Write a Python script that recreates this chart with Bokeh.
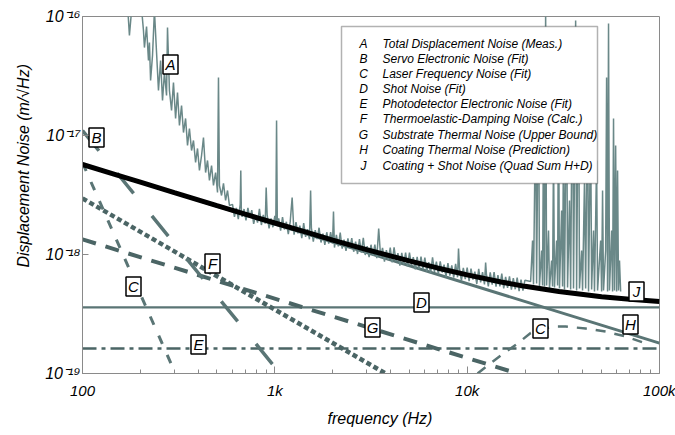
import numpy as np
from bokeh.plotting import figure
from bokeh.models import FixedTicker, CustomJSTickFormatter, BoxAnnotation, Title, Range1d
from bokeh.embed import file_html
from bokeh.resources import INLINE
from bokeh.core.properties import value

# ---------------- data ----------------
# A: measured total displacement noise, stored as log10(Hz) / log10(m/rtHz), in three stretches
meas_low_log10_freq = [
    2.208, 2.234, 2.244, 2.255, 2.281, 2.307, 2.317, 2.322, 2.333, 2.343, 2.348, 2.354, 2.364, 2.374,
    2.385, 2.395, 2.406, 2.416, 2.426, 2.437, 2.442, 2.452, 2.463, 2.473, 2.484, 2.494, 2.504, 2.515,
    2.525, 2.536, 2.546, 2.556, 2.567, 2.577, 2.588, 2.598, 2.608, 2.619, 2.629, 2.640, 2.650, 2.660,
    2.671, 2.681, 2.692, 2.702, 2.707, 2.712, 2.723, 2.733, 2.744, 2.754, 2.764,
]
meas_low_log10_asd = [
    -15.866, -15.899, -16.160, -15.950, -15.882, -15.933, -16.118, -16.261, -16.084, -16.370, -16.218,
    -16.538, -16.328, -15.950, -16.303, -16.622, -16.370, -16.706, -16.471, -16.664, -16.092, -16.622,
    -16.790, -16.555, -16.857, -16.639, -16.916, -16.748, -16.975, -16.857, -17.084, -16.941, -17.126,
    -17.042, -17.227, -17.109, -17.294, -17.168, -17.017, -17.311, -17.210, -17.378, -17.252, -17.420,
    -17.311, -17.479, -16.513, -17.420, -17.504, -17.403, -17.546, -17.462, -17.588,
]
meas_mid_log10_freq = [
    2.78, 2.79, 2.80, 2.81, 2.82, 2.823, 2.826, 2.83, 2.84, 2.85,
    2.86, 2.87, 2.88, 2.89, 2.90, 2.91, 2.92, 2.93, 2.94, 2.95,
    2.955, 2.96, 2.97, 2.98, 2.99, 3.00, 3.005, 3.009, 3.013, 3.02,
    3.03, 3.04, 3.05, 3.06, 3.07, 3.08, 3.09, 3.10, 3.11, 3.12,
    3.13, 3.14, 3.15, 3.16, 3.17, 3.18, 3.186, 3.19, 3.20, 3.21,
    3.22, 3.23, 3.24, 3.25, 3.26, 3.27, 3.28, 3.29, 3.30, 3.305,
    3.31, 3.32, 3.33, 3.34, 3.35, 3.36, 3.37, 3.38, 3.39, 3.40,
    3.41, 3.42, 3.43, 3.44, 3.45, 3.46, 3.47, 3.48, 3.49, 3.50,
    3.51, 3.52, 3.53, 3.54, 3.55, 3.56, 3.57, 3.58, 3.59, 3.60,
    3.61, 3.62, 3.63, 3.64, 3.65, 3.66, 3.67, 3.68, 3.69, 3.70,
    3.71, 3.72, 3.73, 3.74, 3.75, 3.76, 3.77, 3.78, 3.79, 3.80,
    3.81, 3.82, 3.83, 3.84, 3.85, 3.86, 3.87, 3.88, 3.89, 3.90,
    3.91, 3.92, 3.93, 3.94, 3.95, 3.955, 3.96, 3.97, 3.98, 3.99,
    4.00, 4.01, 4.02, 4.03, 4.04, 4.05, 4.06, 4.07, 4.08, 4.09,
    4.096, 4.10, 4.11, 4.12, 4.13, 4.14, 4.15, 4.16, 4.17, 4.18,
    4.19, 4.20, 4.21, 4.22, 4.23, 4.24, 4.25, 4.26, 4.27, 4.28,
    4.29, 4.30,
]
meas_mid_log10_asd = [
    -17.579, -17.684, -17.608, -17.703, -17.578, -17.294, -17.650, -17.683, -17.618, -17.713,
    -17.608, -17.692, -17.627, -17.742, -17.667, -17.732, -17.617, -17.752, -17.667, -17.741,
    -17.437, -17.666, -17.781, -17.696, -17.771, -17.676, -17.760, -16.874, -17.760, -17.696,
    -17.800, -17.685, -17.790, -17.725, -17.829, -17.724, -17.521, -17.834, -17.728, -17.823,
    -17.758, -17.863, -17.737, -17.852, -17.787, -17.872, -17.462, -17.776, -17.891, -17.796,
    -17.870, -17.775, -17.899, -17.824, -17.919, -17.813, -17.908, -17.812, -17.907, -17.639,
    -17.942, -17.836, -17.931, -17.815, -17.950, -17.875, -17.969, -17.864, -17.948, -17.863,
    -17.977, -17.892, -17.996, -17.871, -17.985, -17.860, -18.004, -17.929, -18.023, -17.918,
    -18.012, -17.916, -18.031, -17.782, -18.020, -17.944, -18.059, -17.963, -18.048, -17.942,
    -18.066, -17.940, -18.055, -17.989, -18.093, -17.987, -18.081, -17.985, -18.100, -17.984,
    -18.088, -18.022, -18.126, -18.020, -18.124, -18.018, -18.123, -18.027, -18.141, -18.065,
    -18.159, -18.023, -18.146, -18.060, -18.164, -18.058, -18.151, -18.085, -18.189, -18.073,
    -18.177, -18.091, -18.194, -18.078, -18.192, -17.950, -18.116, -18.219, -18.113, -18.207,
    -18.111, -18.224, -18.118, -18.211, -18.144, -18.248, -18.121, -18.234, -18.148, -18.251,
    -18.067, -18.164, -18.268, -18.151, -18.254, -18.148, -18.271, -18.174, -18.268, -18.161,
    -18.284, -18.188, -18.281, -18.184, -18.296, -18.199, -18.292, -18.195, -18.308, -18.211,
    -18.304, -18.217,
]
meas_high_log10_freq = [
    4.330, 4.340, 4.345, 4.356, 4.361, 4.371, 4.376, 4.387, 4.392, 4.397, 4.402, 4.408, 4.413, 4.423,
    4.428, 4.439, 4.444, 4.449, 4.454, 4.465, 4.470, 4.475, 4.480, 4.491, 4.496, 4.501, 4.506, 4.517,
    4.522, 4.532, 4.538, 4.548, 4.553, 4.564, 4.569, 4.579, 4.584, 4.595, 4.600, 4.610, 4.616, 4.626,
    4.631, 4.642, 4.647, 4.657, 4.662, 4.673, 4.678, 4.694, 4.699, 4.704, 4.709, 4.720, 4.725, 4.730,
    4.735, 4.740, 4.751, 4.756, 4.761, 4.766, 4.772, 4.777, 4.782, 4.787, 4.792, 4.798,
]
meas_high_log10_asd = [
    -18.227, -17.882, -18.252, -16.706, -18.244, -16.370, -18.269, -17.966, -18.261, -16.874, -18.269,
    -15.950, -18.261, -17.798,
    -18.286, -18.050, -18.269, -17.126, -18.277, -17.882, -18.261, -16.622, -18.286, -17.630, -18.269,
    -16.958, -18.294, -16.454,
    -18.277, -17.546, -18.294, -16.202, -18.286, -16.034, -18.303, -16.118, -18.286, -17.966, -18.303,
    -17.378, -18.286, -16.538,
    -18.311, -16.874, -18.294, -17.798, -18.311, -17.210, -18.303, -17.882, -18.311, -17.462, -18.303,
    -17.966, -16.513, -18.311,
    -16.059, -18.303, -17.798, -18.311, -16.857, -18.303, -17.084, -18.311, -17.294, -18.303, -18.050,
    -18.311,
]

servo_freq = [100, 1064]
servo_asd = [1.10e-17, 1.0e-19]

laser_lo_freq = [100, 304]
laser_lo_asd = [5.9e-18, 1.0e-19]
laser_hi_freq = [11324, 14928, 18281, 21380, 24099, 27797, 32509, 41305, 52481, 66681, 84723]
laser_hi_asd = [1.0e-19, 1.416e-19, 1.786e-19, 2.19e-19, 2.34e-19, 2.48e-19, 2.48e-19, 2.39e-19,
                2.25e-19, 2.05e-19, 1.79e-19]

shot_freq = [100, 100000]
shot_asd = [3.6e-19, 3.6e-19]

pd_freq = [100, 100000]
pd_asd = [1.62e-19, 1.62e-19]

ted_freq = [100, 3770]
ted_asd = [2.96e-18, 1.0e-19]

substrate_freq = [100, 18300]
substrate_asd = [1.34e-18, 1.0e-19]

coating_freq = [100, 100000]
coating_asd = [5.7e-18, 1.8e-19]

quad_freq = [100, 150, 200, 300, 500, 700, 1000, 1500, 2000, 3000, 5000, 7000, 10000, 15000,
             20000, 30000, 50000, 70000, 100000]
quad_asd = [5.71e-18, 4.67e-18, 4.05e-18, 3.31e-18, 2.57e-18, 2.18e-18, 1.84e-18, 1.52e-18,
            1.32e-18, 1.10e-18, 8.83e-19, 7.71e-19, 6.74e-19, 5.88e-19, 5.40e-19, 4.88e-19,
            4.41e-19, 4.20e-19, 4.03e-19]

legend_letters = ["A", "B", "C", "D", "E", "F", "G", "H", "J"]
legend_texts = [
    "Total Displacement Noise (Meas.)",
    "Servo Electronic Noise (Fit)",
    "Laser Frequency Noise (Fit)",
    "Shot Noise (Fit)",
    "Photodetector Electronic Noise (Fit)",
    "Thermoelastic-Damping Noise (Calc.)",
    "Substrate Thermal Noise (Upper Bound)",
    "Coating Thermal Noise (Prediction)",
    "Coating + Shot Noise (Quad Sum H+D)",
]

x_ticks = [100, 1000, 10000, 100000]
x_minor = [200, 300, 400, 500, 600, 700, 800, 900, 2000, 3000, 4000, 5000, 6000, 7000, 8000, 9000,
           20000, 30000, 40000, 50000, 60000, 70000, 80000, 90000]
y_ticks = [1e-19, 1e-18, 1e-17, 1e-16]

# ---------------- layout ----------------
X0, X1 = 100.0, 1e5
Y0, Y1 = 1e-19, 1e-16
FW, FH = 577, 357
ML, MT = 82, 16   # frame position on the canvas


def at(sx, sy):
    """canvas position (pixels) -> data coordinates, used only for annotation placement"""
    fx = 10 ** (np.log10(X0) + (sx - ML) / FW * np.log10(X1 / X0))
    fy = 10 ** (np.log10(Y1) - (sy - MT) / FH * np.log10(Y1 / Y0))
    return fx, fy


FONT = "Liberation Sans"
GRAY = "#8a8a8a"
TRACE = "#6a8888"
DARK = "#4b6565"
MID = "#5a7575"

p = figure(width=675, height=435, x_axis_type="log", y_axis_type="log",
           x_range=Range1d(X0, X1), y_range=Range1d(Y0, Y1),
           output_backend="svg", toolbar_location=None,
           min_border_left=ML, min_border_right=16, min_border_top=MT, min_border_bottom=62)
p.grid.visible = False
p.background_fill_color = "white"
p.border_fill_color = "white"
p.outline_line_color = GRAY
p.outline_line_width = 1

xa = p.xaxis[0]
xa.ticker = FixedTicker(ticks=x_ticks, minor_ticks=x_minor)
xa.formatter = CustomJSTickFormatter(code="""
    const m = {100: "100", 1000: "1k", 10000: "10k", 100000: "100k"};
    return m[Math.round(tick)] || "";
""")
ya = p.yaxis[0]
ya.ticker = FixedTicker(ticks=y_ticks, minor_ticks=[])
ya.formatter = CustomJSTickFormatter(code="""
    const m = {"-19": "10\u207b\u00b9\u2079", "-18": "10\u207b\u00b9\u2078",
               "-17": "10\u207b\u00b9\u2077", "-16": "10\u207b\u00b9\u2076"};
    return m[String(Math.round(Math.log10(tick)))] || "";
""")
for ax in (xa, ya):
    ax.axis_line_color = GRAY
    ax.major_tick_line_color = GRAY
    ax.minor_tick_line_color = GRAY
    ax.major_tick_out = 0
    ax.minor_tick_out = 0
    ax.major_label_text_font = FONT
    ax.major_label_text_font_style = "italic"
    ax.major_label_text_font_size = "15px"
    ax.major_label_text_color = "black"
xa.major_tick_in = 7
xa.minor_tick_in = 4
xa.major_label_standoff = 8
ya.major_tick_in = 6
ya.major_label_standoff = 2
ya.major_label_text_font_size = "16px"

# axis titles, placed like the reference (x title right of centre, y title above centre)
p.add_layout(Title(text="frequency (Hz)", align="left", offset=245,
                   text_font=FONT, text_font_style="italic", text_font_size="16px",
                   text_color="black", standoff=12), "below")
p.add_layout(Title(text="Displacement Noise (m/\u221aHz)", align="left", offset=106,
                   text_font=FONT, text_font_style="italic", text_font_size="16px",
                   text_color="black", standoff=22), "left")

# ---------------- curves ----------------
p.line(pd_freq, pd_asd, line_color=DARK, line_width=2.5, line_dash="14 5 4 5")
p.line(shot_freq, shot_asd, line_color=MID, line_width=2.2)
p.line(substrate_freq, substrate_asd, line_color=DARK, line_width=4, line_dash="14 10")
p.line(ted_freq, ted_asd, line_color=DARK, line_width=4.5, line_dash="5 3")
p.line(laser_lo_freq, laser_lo_asd, line_color=MID, line_width=3, line_dash="9 12")
p.line(laser_hi_freq, laser_hi_asd, line_color=MID, line_width=2.5, line_dash="10 9")
p.line(servo_freq, servo_asd, line_color=MID, line_width=3.5, line_dash="26 29")
p.line(coating_freq, coating_asd, line_color=MID, line_width=3)
meas_log10_freq = meas_low_log10_freq + meas_mid_log10_freq + meas_high_log10_freq
meas_log10_asd = meas_low_log10_asd + meas_mid_log10_asd + meas_high_log10_asd
meas_freq = 10.0 ** np.array(meas_log10_freq)
meas_asd = 10.0 ** np.array(meas_log10_asd)
p.line(meas_freq, meas_asd, line_color=TRACE, line_width=1.5)
p.line(quad_freq, quad_asd, line_color="black", line_width=5)

# ---------------- boxed curve letters ----------------
tag_letters = ["A", "B", "C", "F", "E", "D", "G", "C", "J", "H"]
tag_pos = [at(170, 64), at(96, 137), at(133, 286), at(212, 263), at(198, 344),
           at(421, 302), at(372, 327), at(540, 328), at(636, 291), at(630, 324)]
tx = [q[0] for q in tag_pos]
ty = [q[1] for q in tag_pos]
p.rect(tx, ty, width=15, height=19, width_units="screen", height_units="screen",
       fill_color="white", line_color="black", line_width=1.5)
p.text(tx, ty, text=tag_letters, text_align="center", text_baseline="middle",
       text_font=value(FONT), text_font_style="italic", text_font_size="15px", text_color="black")

# ---------------- legend box ----------------
l_left, l_top = at(341, 26)
l_right, l_bottom = at(597, 183)
p.add_layout(BoxAnnotation(left=l_left, right=l_right, top=l_top, bottom=l_bottom,
                           fill_color="white", fill_alpha=1.0, line_color="black", line_width=1.5))
rows_y = [43, 58, 73, 88, 103, 118, 134, 149, 165]
lx_letter = [at(363, r)[0] for r in rows_y]
ly_row = [at(363, r)[1] for r in rows_y]
lx_text = [at(382, r)[0] for r in rows_y]
r1 = p.text(lx_letter, ly_row, text=legend_letters, text_align="center", text_baseline="middle",
            text_font=value(FONT), text_font_style="italic", text_font_size="12px", text_color="black")
r2 = p.text(lx_text, ly_row, text=legend_texts, text_align="left", text_baseline="middle",
            text_font=value(FONT), text_font_style="italic", text_font_size="12px", text_color="black")
r1.level = "overlay"
r2.level = "overlay"

open("out.html", "w").write(file_html(p, INLINE))
